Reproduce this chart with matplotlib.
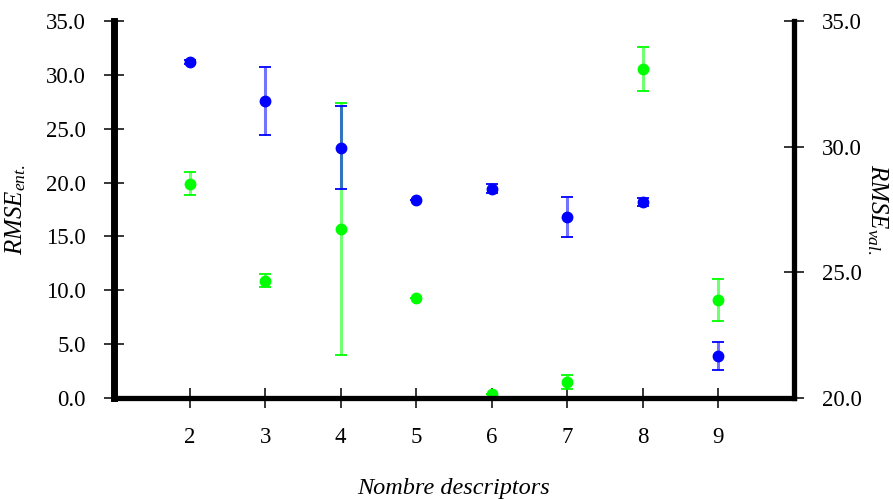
import matplotlib
matplotlib.use('Agg')
import matplotlib.pyplot as plt
from matplotlib.ticker import FormatStrFormatter

plt.rcParams['font.family'] = ['Liberation Serif', 'DejaVu Serif']
plt.rcParams['mathtext.fontset'] = 'custom'
plt.rcParams['mathtext.rm'] = 'Liberation Serif'
plt.rcParams['mathtext.it'] = 'Liberation Serif:italic'

# Data
n_desc = [2, 3, 4, 5, 6, 7, 8, 9]
rmse_ent = [19.9, 10.9, 15.7, 9.3, 0.4, 1.5, 30.5, 9.1]      # green, left axis
rmse_ent_err = [1.05, 0.6, 11.7, 0.0, 0.0, 0.68, 2.04, 1.95]
rmse_val = [33.37, 31.81, 29.96, 27.88, 28.33, 27.21, 27.79, 21.68]  # blue, right axis
rmse_val_err = [0.08, 1.35, 1.65, 0.0, 0.17, 0.79, 0.17, 0.55]

fig = plt.figure(figsize=(8.93, 5.0), dpi=100)
ax1 = fig.add_axes([0.1277, 0.2034, 0.7613, 0.7552])
ax2 = ax1.twinx()

def draw(ax, y, err, color):
    pts, caps, bars = ax.errorbar(n_desc, y, yerr=err, fmt='o', color=color,
                                  ms=7.5, elinewidth=2.2, capsize=4, capthick=1.3)
    for b in bars:
        b.set_alpha(0.55)

draw(ax1, rmse_ent, rmse_ent_err, '#00ff00')
draw(ax2, rmse_val, rmse_val_err, '#0000ff')

ax1.set_xlim(1, 10)
ax1.set_ylim(0, 35)
ax2.set_ylim(20, 35)
ax1.set_xticks(n_desc)
ax1.set_yticks([0, 5, 10, 15, 20, 25, 30, 35])
ax2.set_yticks([20, 25, 30, 35])
ax1.yaxis.set_major_formatter(FormatStrFormatter('%.1f'))
ax2.yaxis.set_major_formatter(FormatStrFormatter('%.1f'))

# spines
ax1.spines['top'].set_visible(False)
ax1.spines['right'].set_visible(False)
ax1.spines['left'].set_linewidth(5)
ax1.spines['bottom'].set_linewidth(3.8)
ax2.spines['top'].set_visible(False)
ax2.spines['left'].set_visible(False)
ax2.spines['bottom'].set_visible(False)
ax2.spines['right'].set_linewidth(3.8)

for ax in (ax1, ax2):
    ax.tick_params(direction='inout', length=15, width=1.1, labelsize=16.5, pad=13)

ax1.set_xlabel('Nombre descriptors', fontsize=17.5, style='italic', labelpad=22)
ax1.set_ylabel(r'$RMSE_{ent.}$', fontsize=18, labelpad=13)
ax2.set_ylabel(r'$RMSE_{val.}$', fontsize=18, rotation=270, labelpad=20)

fig.savefig('out.png', dpi=100)
